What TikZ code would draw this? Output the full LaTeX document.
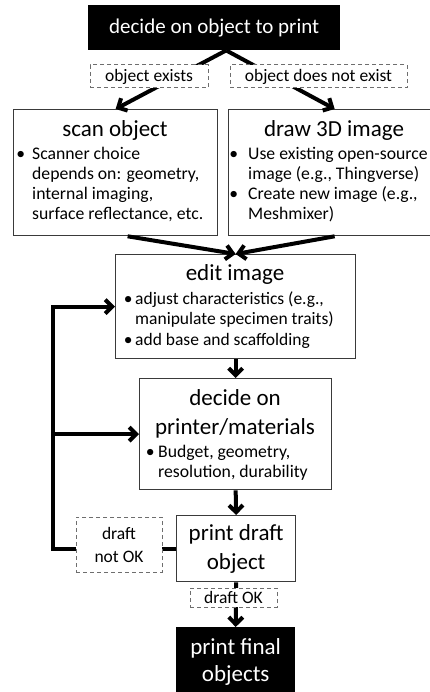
\documentclass[tikz,border=0pt]{standalone}
\usepackage{fontspec}
\setmainfont{Carlito}
\usetikzlibrary{arrows.meta,calc}
\definecolor{boxgray}{HTML}{3A3A3A}
\definecolor{dashgray}{HTML}{6E6E6E}
% bullet hanging to the left of the text column, gap given as argument
\newcommand\bu[1][4pt]{\llap{\textbullet\hspace{#1}}}
\newcommand\itemlines[1]{\begin{tabular}[t]{@{}l@{}}#1\end{tabular}}
\tikzset{
  box/.style={draw=boxgray, line width=1.3pt, fill=white, anchor=north west, inner sep=0pt},
  endbox/.style={fill=black, text=white, anchor=north west, inner sep=0pt, align=center},
  tag/.style={draw=dashgray, dash pattern=on 4pt off 3pt, line width=1pt, fill=white,
              font=\fontsize{17.5}{20}\selectfont, inner sep=0pt},
  flow/.style={line width=4pt, -{Straight Barb[length=7pt,width=14pt]}},
  title/.style={font=\fontsize{23}{29}\selectfont, anchor=base, inner sep=0pt},
  items/.style={font=\fontsize{17.7}{20}\selectfont, anchor=base west, inner sep=0pt},
}
\begin{document}
\begin{tikzpicture}[x=1pt,y=-1pt]
\useasboundingbox (0,0) rectangle (430,692);
\clip (0,0) rectangle (430,692);
\fill[white] (0,0) rectangle (430,692);

% process boxes
\node[endbox, minimum width=252pt, minimum height=45pt, font=\fontsize{21}{25}\selectfont]
  (top) at (88,5) {decide on object to print};
\node[box, minimum width=204pt, minimum height=126pt] (scan) at (13,109) {};
\node[box, minimum width=212pt, minimum height=126pt] (draw) at (228,109) {};
\node[box, minimum width=240pt, minimum height=104pt] (edit) at (115,254) {};
\node[box, minimum width=192pt, minimum height=111pt] (decide) at (139,378) {};
\node[box, minimum width=119pt, minimum height=66pt, align=center,
      font=\fontsize{23}{29}\selectfont] (print) at (176,515) {print draft\\object};
\node[endbox, minimum width=119pt, minimum height=69pt, font=\fontsize{23}{27}\selectfont]
  (final) at (176,627) {print final\\objects};

% box contents
\node[title] (scantitle) at (115,137) {scan object};
\node[items] (scanlist) at (32,160) {\itemlines{\bu[7pt]Scanner choice\\
  depends on: geometry,\\ internal imaging,\\ surface reflectance, etc.}};
\node[title] (drawtitle) at (334,137) {draw 3D image};
\node[items] (drawlist) at (248,160) {\itemlines{\bu[10pt]Use existing open-source\\
  image (e.g., Thingverse)\\ \bu[10pt]Create new image (e.g.,\\ Meshmixer)}};
\node[title] (edittitle) at (235,280) {edit image};
\node[items, font=\fontsize{17.5}{20.5}\selectfont] (editlist) at (135,304)
  {\itemlines{\bu[2.5pt]adjust characteristics (e.g.,\\ manipulate specimen traits)\\
  \bu[2.5pt]add base and scaffolding}};
% two-line title: the base anchor sits on the last line
\node[title, align=center] (decidetitle) at (235,434) {decide on\\printer/materials};
\node[items] (decidelist) at (158,457) {\itemlines{\bu[3.5pt]Budget, geometry,\\
  resolution, durability}};

% connectors
\coordinate (fork) at ($(top.south)+(12,0)$);
\draw[flow] (fork) -- (scan.north);
\draw[flow] (fork) -- (draw.north);
\draw[flow] ($(scan.south)+(12,0)$) -- (edit.north);
\draw[flow] (draw.south) -- (edit.north);
\draw[flow] (edit.south) -- (decide.north);
\draw[flow] (decide.south) -- (print.north);
\draw[flow] (print.south) -- (final.north);
\coordinate (loopbot) at ($(print.west)+(-123,0)$);
\coordinate (looptop) at (loopbot |- edit.west);
\draw[flow] (print.west) -- (loopbot) -- (looptop) -- (edit.west);
\draw[flow] (loopbot |- decide.west) -- (decide.west);

% decision labels
\node[tag, minimum width=118pt, minimum height=23pt] (exists) at (149,76.5) {object exists};
\node[tag, minimum width=177pt, minimum height=23pt] (notexist) at (318.5,76.5) {object does not exist};
\node[tag, minimum width=86pt, minimum height=55pt, align=center,
      font=\fontsize{17.5}{23}\selectfont] (notok) at (119,544.5) {draft\\not OK};
\node[tag, minimum width=87pt, minimum height=19pt] (ok) at (233.5,597.5) {draft OK};
\end{tikzpicture}
\end{document}
